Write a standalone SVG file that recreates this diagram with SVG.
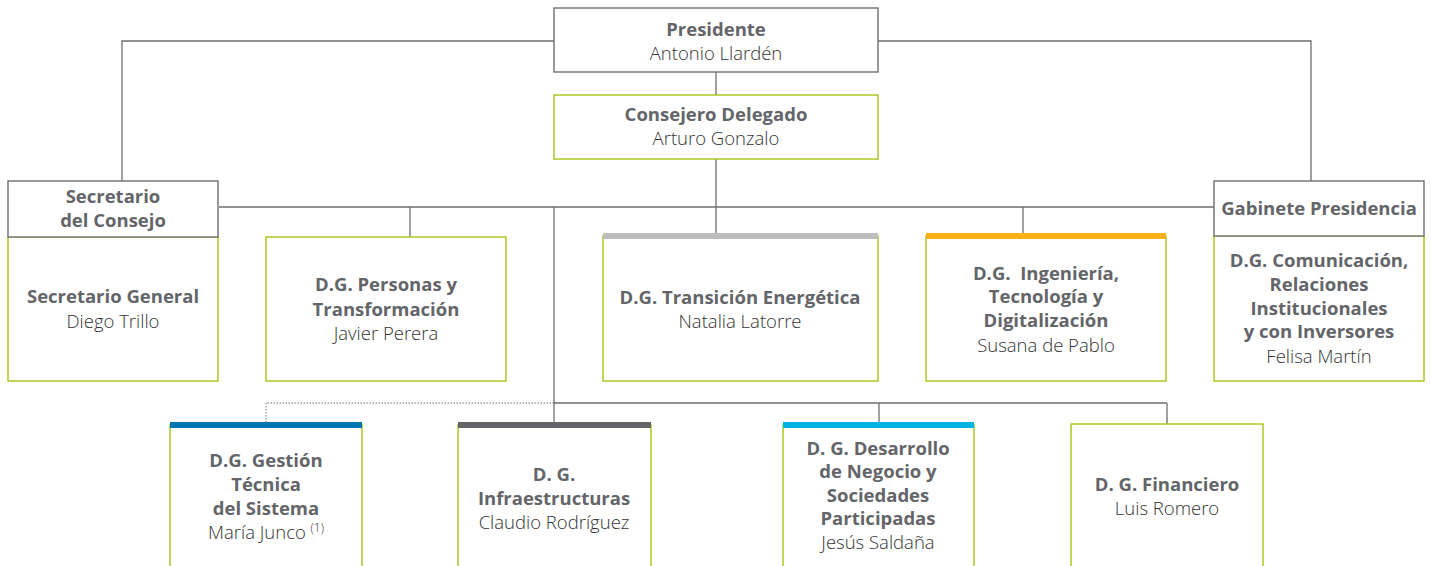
<svg xmlns="http://www.w3.org/2000/svg" width="1431" height="566" viewBox="0 0 1431 566">
<style>
.bg{fill:#ffffff}
.gbox{fill:#ffffff;stroke:#6d6e71;stroke-width:1.4}
.lbox{fill:#ffffff;stroke:#a3c614;stroke-width:1.4}
.ln{fill:none;stroke:#6d6e71;stroke-width:1.3}
.dot{fill:none;stroke:#6d6e71;stroke-width:1;stroke-dasharray:1.5 1.5}
text{font-family:"Open Sans","Noto Sans","Liberation Sans",sans-serif;font-size:18.5px;fill:#636569;text-anchor:middle}
.b{font-weight:700}
.n{font-weight:300;fill:#333333}
</style>
<rect class="bg" x="0" y="0" width="1431" height="566"/>
<g id="connectors">
<polyline class="ln" points="554,41 122,41 122,181"/>
<polyline class="ln" points="878,41 1311,41 1311,181"/>
<line class="ln" x1="716" y1="72" x2="716" y2="95"/>
<line class="ln" x1="716" y1="159" x2="716" y2="233"/>
<line class="ln" x1="219" y1="207" x2="1214" y2="207"/>
<line class="ln" x1="410" y1="207" x2="410" y2="237"/>
<line class="ln" x1="1023" y1="207" x2="1023" y2="234"/>
<line class="ln" x1="554" y1="207" x2="554" y2="422"/>
<line class="ln" x1="554" y1="403" x2="1167" y2="403"/>
<line class="ln" x1="879" y1="403" x2="879" y2="422"/>
<line class="ln" x1="1167" y1="403" x2="1167" y2="424"/>
<polyline class="dot" points="554,403 266,403 266,422"/>
</g>
<g id="presidente">
<rect class="gbox" x="554" y="8" width="324" height="64"/>
<text class="b" x="716" y="36">Presidente</text>
<text class="n" x="716" y="60">Antonio Llardén</text>
</g>
<g id="consejero">
<rect class="lbox" x="554" y="95" width="324" height="64"/>
<text class="b" x="716" y="121">Consejero Delegado</text>
<text class="n" x="716" y="145">Arturo Gonzalo</text>
</g>
<g id="secretario-consejo">
<rect class="lbox" x="8" y="237" width="210" height="144"/>
<rect class="gbox" x="8" y="181" width="210" height="56"/>
<text class="b" x="113" y="203">Secretario</text>
<text class="b" x="113" y="227">del Consejo</text>
<text class="b" x="113" y="303">Secretario General</text>
<text class="n" x="113" y="328">Diego Trillo</text>
</g>
<g id="personas">
<rect class="lbox" x="266" y="237" width="240" height="144"/>
<text class="b" x="386" y="291">D.G. Personas y</text>
<text class="b" x="386" y="316">Transformación</text>
<text class="n" x="386" y="340">Javier Perera</text>
</g>
<g id="transicion">
<rect class="lbox" x="603" y="236" width="275" height="145"/>
<rect x="603" y="233" width="275" height="6" fill="#bcbdbf"/>
<text class="b" x="740" y="304">D.G. Transición Energética</text>
<text class="n" x="740" y="328">Natalia Latorre</text>
</g>
<g id="ingenieria">
<rect class="lbox" x="926" y="236" width="240" height="145"/>
<rect x="926" y="233" width="240" height="6" fill="#fbb21a"/>
<text class="b" x="1046" y="280" xml:space="preserve">D.G.  Ingeniería,</text>
<text class="b" x="1046" y="303">Tecnología y</text>
<text class="b" x="1046" y="327">Digitalización</text>
<text class="n" x="1046" y="352">Susana de Pablo</text>
</g>
<g id="gabinete">
<rect class="lbox" x="1214" y="236" width="210" height="145"/>
<rect class="gbox" x="1214" y="181" width="210" height="55"/>
<text class="b" x="1319" y="215">Gabinete Presidencia</text>
<text class="b" x="1319" y="267">D.G. Comunicación,</text>
<text class="b" x="1319" y="291">Relaciones</text>
<text class="b" x="1319" y="315">Institucionales</text>
<text class="b" x="1319" y="338">y con Inversores</text>
<text class="n" x="1319" y="363">Felisa Martín</text>
</g>
<g id="gestion">
<rect class="lbox" x="170" y="425" width="192" height="150"/>
<rect x="170" y="422" width="192" height="6" fill="#0077b0"/>
<text class="b" x="266" y="467">D.G. Gestión</text>
<text class="b" x="266" y="491">Técnica</text>
<text class="b" x="266" y="515">del Sistema</text>
<text class="n" x="266" y="539">María Junco <tspan font-size="12" dy="-7">(1)</tspan></text>
</g>
<g id="infraestructuras">
<rect class="lbox" x="458" y="425" width="193" height="150"/>
<rect x="458" y="422" width="193" height="6" fill="#636569"/>
<text class="b" x="554" y="481">D. G.</text>
<text class="b" x="554" y="505">Infraestructuras</text>
<text class="n" x="554" y="529">Claudio Rodríguez</text>
</g>
<g id="desarrollo">
<rect class="lbox" x="783" y="425" width="191" height="150"/>
<rect x="783" y="422" width="191" height="6" fill="#00b5e2"/>
<text class="b" x="878" y="455">D. G. Desarrollo</text>
<text class="b" x="878" y="478">de Negocio y</text>
<text class="b" x="878" y="502">Sociedades</text>
<text class="b" x="878" y="525">Participadas</text>
<text class="n" x="878" y="549">Jesús Saldaña</text>
</g>
<g id="financiero">
<rect class="lbox" x="1071" y="424" width="192" height="150"/>
<text class="b" x="1167" y="491">D. G. Financiero</text>
<text class="n" x="1167" y="515">Luis Romero</text>
</g>
</svg>
